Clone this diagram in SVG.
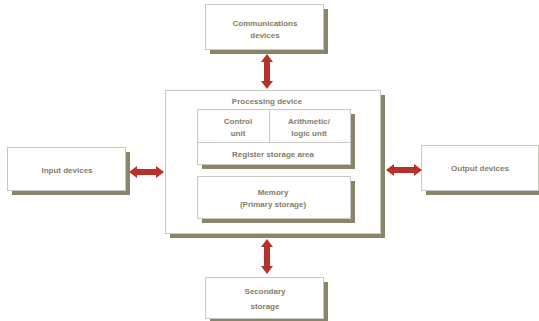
<svg xmlns="http://www.w3.org/2000/svg" width="539" height="321" viewBox="0 0 539 321">
<style>
.sh{fill:#8a8567}
.bx{fill:#fff;stroke:#c9c9c1;stroke-width:1}
.t{font-family:"Liberation Sans",Arial,sans-serif;font-weight:bold;font-size:8px;fill:#867c68;text-anchor:middle}
.ar{fill:#b8302a}
</style>
<rect width="539" height="321" fill="#fff"/>
<g id="communications">
<rect class="sh" x="210" y="9" width="118" height="45"/>
<rect class="bx" x="205.5" y="4.5" width="118" height="45"/>
<text class="t" x="265" y="26">Communications</text>
<text class="t" x="265" y="38">devices</text>
</g>
<g id="processing">
<rect class="sh" x="170" y="95" width="215" height="143"/>
<rect class="bx" x="165.5" y="90.5" width="215" height="143"/>
<text class="t" x="267" y="104">Processing device</text>
</g>
<g id="cpu-unit">
<rect class="sh" x="202" y="114" width="153" height="55"/>
<rect class="bx" x="197.5" y="109.5" width="153" height="55"/>
<line x1="269.5" y1="109.5" x2="269.5" y2="142.5" stroke="#c9c9c1"/>
<line x1="197.5" y1="142.5" x2="350.5" y2="142.5" stroke="#c9c9c1"/>
<text class="t" x="238" y="124">Control</text>
<text class="t" x="238" y="136">unit</text>
<text class="t" x="309" y="124">Arithmetic/</text>
<text class="t" x="309" y="136">logic unit</text>
<text class="t" x="273" y="157">Register storage area</text>
</g>
<g id="memory">
<rect class="sh" x="202" y="181" width="153" height="42"/>
<rect class="bx" x="197.5" y="176.5" width="153" height="42"/>
<text class="t" x="273" y="195">Memory</text>
<text class="t" x="273" y="207">(Primary storage)</text>
</g>
<g id="input">
<rect class="sh" x="12" y="152" width="118" height="43"/>
<rect class="bx" x="7.5" y="147.5" width="118" height="43"/>
<text class="t" x="67" y="173">Input devices</text>
</g>
<g id="output">
<rect class="sh" x="426" y="150" width="118" height="45"/>
<rect class="bx" x="421.5" y="145.5" width="117" height="45"/>
<text class="t" x="480" y="171">Output devices</text>
</g>
<g id="secondary">
<rect class="sh" x="210" y="282" width="118" height="41"/>
<rect class="bx" x="205.5" y="277.5" width="118" height="41"/>
<text class="t" x="265" y="294">Secondary</text>
<text class="t" x="265" y="309">storage</text>
</g>
<g id="connectors">
<polygon class="ar" points="267,54 273,62 270,62 270,81 273,81 267,89 261,81 264,81 264,62 261,62"/>
<polygon class="ar" points="267,239 273,247 270,247 270,266 273,266 267,274 261,266 264,266 264,247 261,247"/>
<polygon class="ar" points="129,172 137,166 137,169 156,169 156,166 164,172 156,178 156,175 137,175 137,178"/>
<polygon class="ar" points="386,170 394,164 394,167 414,167 414,164 422,170 414,176 414,173 394,173 394,176"/>
</g>
</svg>
